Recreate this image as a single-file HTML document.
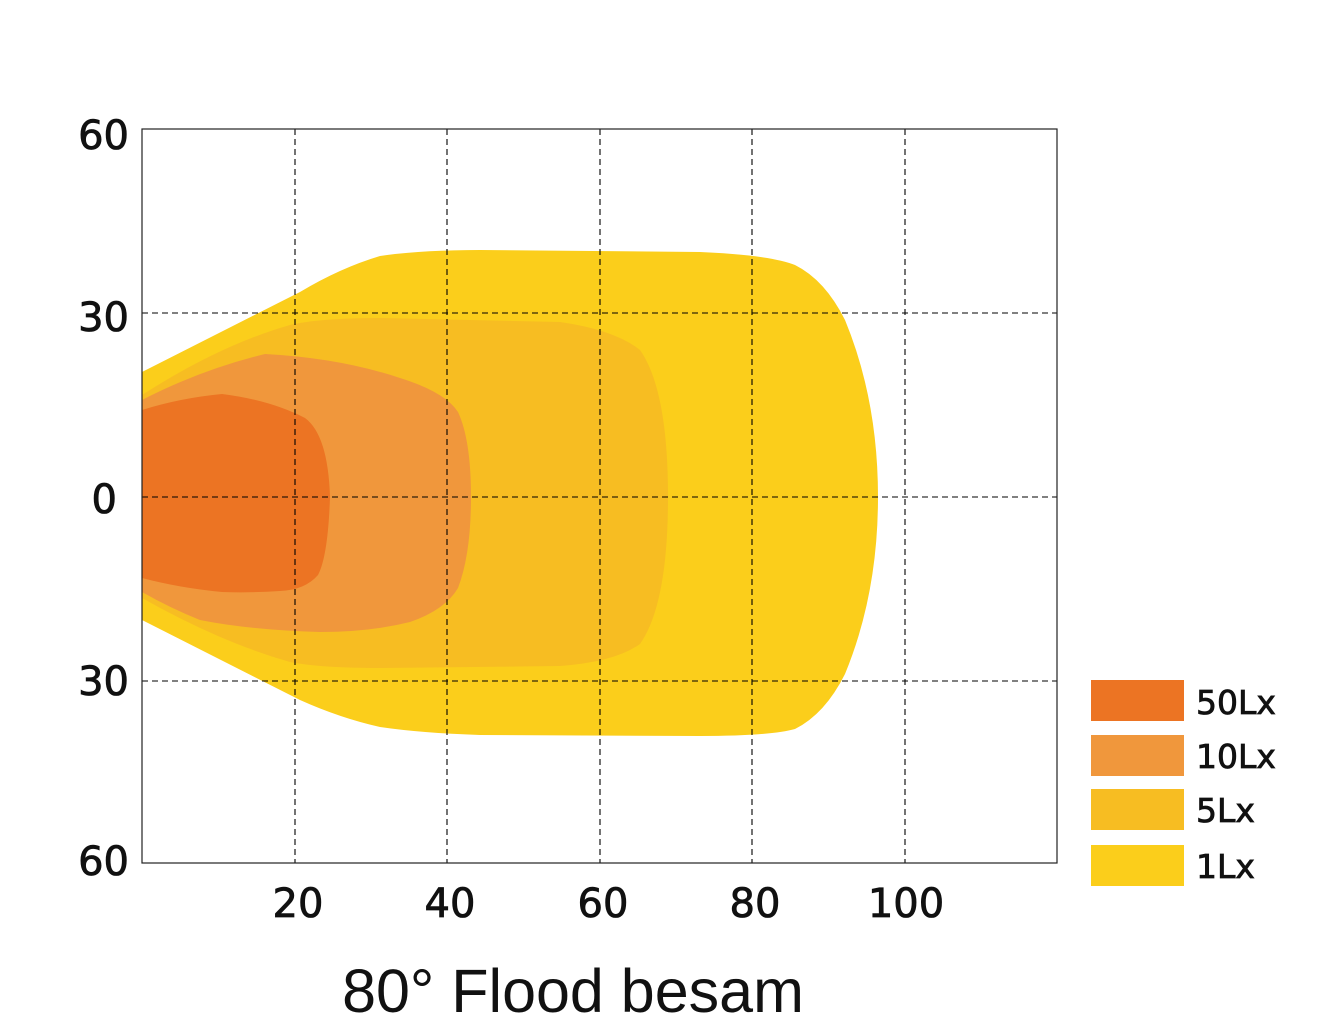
<!DOCTYPE html>
<html><head><meta charset="utf-8"><style>
html,body{margin:0;padding:0;background:#fff;width:1327px;height:1036px;overflow:hidden}
</style></head><body>
<svg width="1327" height="1036" xmlns="http://www.w3.org/2000/svg" font-family="'DejaVu Sans','Liberation Sans',sans-serif">
<rect width="1327" height="1036" fill="#fff"/>
<path d="M142,372 L300,292 Q340,268 380,256 Q420,250 480,250 L700,252 Q770,255 795,265 Q825,280 845,320 Q878,400 878,497 Q878,594 845,674 Q825,714 795,729 Q770,736 700,736 L480,735 Q420,733 380,727 Q340,718 300,700 L142,620 Z" fill="#fbce1b"/>
<path d="M142,395 Q220,345 290,325 Q320,318 380,318 L560,322 Q615,330 640,350 Q668,390 668,497 Q668,604 640,644 Q615,662 560,666 L380,668 Q320,668 290,662 Q220,642 142,598 Z" fill="#f7bd22"/>
<path d="M142,400 Q200,370 265,354 Q340,358 400,378 Q445,392 458,412 Q471,440 471,497 Q471,554 458,588 Q445,610 410,622 Q370,632 320,632 Q250,630 200,620 Q170,608 142,592 Z" fill="#f0973c"/>
<path d="M142,410 Q180,398 222,394 Q270,400 305,418 Q328,435 330,497 Q328,556 318,575 Q305,590 280,591 Q250,593 222,592 Q180,588 142,578 Z" fill="#ec7423"/>
<g stroke="#000" stroke-width="1.1" stroke-dasharray="6,4" fill="none">
<line x1="295" y1="129" x2="295" y2="863"/>
<line x1="447" y1="129" x2="447" y2="863"/>
<line x1="600" y1="129" x2="600" y2="863"/>
<line x1="752" y1="129" x2="752" y2="863"/>
<line x1="905" y1="129" x2="905" y2="863"/>
<line x1="142" y1="313" x2="1057" y2="313"/>
<line x1="142" y1="497" x2="1057" y2="497"/>
<line x1="142" y1="681" x2="1057" y2="681"/>
</g>
<rect x="142" y="129" width="915" height="734" fill="none" stroke="#222" stroke-width="1.2"/>
<g font-size="40" fill="#111" stroke="#111" stroke-width="0.8" text-anchor="end">
<text x="129" y="149">60</text>
<text x="129" y="331">30</text>
<text x="117" y="513">0</text>
<text x="129" y="695">30</text>
<text x="129" y="875">60</text>
</g>
<g font-size="40" fill="#111" stroke="#111" stroke-width="0.8" text-anchor="middle">
<text x="298" y="917">20</text>
<text x="450" y="917">40</text>
<text x="603" y="917">60</text>
<text x="755" y="917">80</text>
<text x="906" y="917">100</text>
</g>
<rect x="1091" y="680" width="93" height="41" fill="#ec7423"/>
<rect x="1091" y="735" width="93" height="41" fill="#f0973c"/>
<rect x="1091" y="789" width="93" height="41" fill="#f7bd22"/>
<rect x="1091" y="845" width="93" height="41" fill="#fbce1b"/>
<g font-size="33" fill="#111" stroke="#111" stroke-width="0.8">
<text x="1196" y="714">50Lx</text>
<text x="1196" y="768">10Lx</text>
<text x="1196" y="822">5Lx</text>
<text x="1196" y="878">1Lx</text>
</g>
<text x="573" y="1012" font-size="61" fill="#111" text-anchor="middle" font-family="'Liberation Sans',sans-serif">80° Flood besam</text>
</svg>
</body></html>
